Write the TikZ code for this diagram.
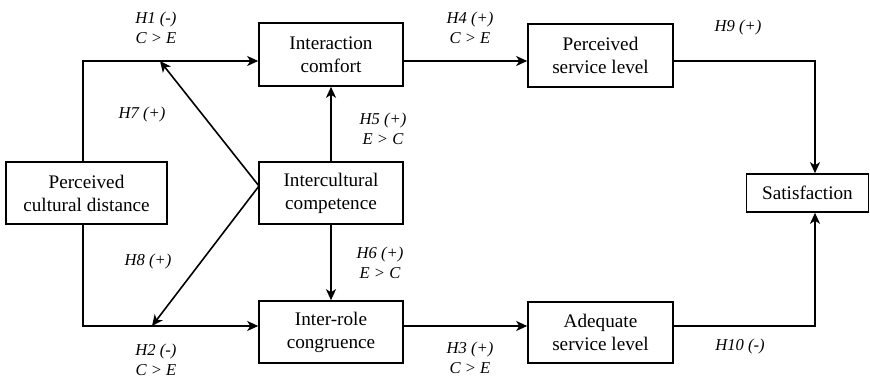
\documentclass[tikz,border=0pt]{standalone}
\usepackage{fontspec}
\setmainfont{Liberation Serif}
\usetikzlibrary{arrows.meta}
\begin{document}
\begin{tikzpicture}[x=1pt,y=-1pt,
  box/.style={draw, line width=1.6pt, align=center, inner sep=0pt,
    font=\fontsize{19.2}{23}\selectfont},
  link/.style={line width=1.6pt, -{Stealth[length=11pt,width=10pt,inset=3pt]}},
  hyp/.style={align=center, inner sep=1pt, font=\fontsize{16.6}{20}\selectfont\itshape}]
\useasboundingbox (0,0) rectangle (870,379);

% constructs
\node[box, minimum width=161pt, minimum height=62pt] (pcd) at (86.5,193) {Perceived\\cultural distance};
\node[box, minimum width=144pt, minimum height=63pt] (ic) at (331,54.5) {Interaction\\comfort};
\node[box, minimum width=144pt, minimum height=62pt] (comp) at (331,193) {Intercultural\\competence};
\node[box, minimum width=144pt, minimum height=62pt] (irc) at (331,332) {Inter-role\\congruence};
\node[box, minimum width=145pt, minimum height=63pt] (psl) at (600.5,55.5) {Perceived\\service level};
\node[box, minimum width=145pt, minimum height=61pt] (asl) at (600.5,332.5) {Adequate\\service level};
\node[box, minimum width=122pt, minimum height=38pt] (sat) at (807.5,193) {Satisfaction};

% routing points
\coordinate (tl) at (83,61);
\coordinate (bl) at (83,326);
\coordinate (hub) at (259,186);
\coordinate (m7) at (160,61);
\coordinate (m8) at (152,326);
\coordinate (tr) at (815,61);
\coordinate (br) at (815,326);

% connectors
\draw[link] (pcd.north -| tl) -- (tl) -- (ic.west |- tl);
\draw[link] (pcd.south -| bl) -- (bl) -- (irc.west |- bl);
\draw[link] (hub) -- (m7);
\draw[link] (hub) -- (m8);
\draw[link] (comp.north) -- (ic.south);
\draw[link] (comp.south) -- (irc.south |- irc.north);
\draw[link] (ic.east |- tl) -- (psl.west |- tl);
\draw[link] (irc.east |- bl) -- (asl.west |- bl);
\draw[link] (psl.east |- tr) -- (tr) -- (sat.north -| tr);
\draw[link] (asl.east |- br) -- (br) -- (sat.south -| br);

% hypothesis labels
\node[hyp] (l1) at (156,28) {H1 (-)\\C > E};
\node[hyp] (l7) at (142,115) {H7 (+)};
\node[hyp] (l8) at (148,262) {H8 (+)};
\node[hyp] (l2) at (156,360) {H2 (-)\\C > E};
\node[hyp] (l4) at (470,28) {H4 (+)\\C > E};
\node[hyp] (l5) at (383,129) {H5 (+)\\E > C};
\node[hyp] (l6) at (380,263) {H6 (+)\\E > C};
\node[hyp] (l3) at (470,358) {H3 (+)\\C > E};
\node[hyp] (l9) at (738,28) {H9 (+)};
\node[hyp] (l10) at (740,347) {H10 (-)};
\end{tikzpicture}
\end{document}
